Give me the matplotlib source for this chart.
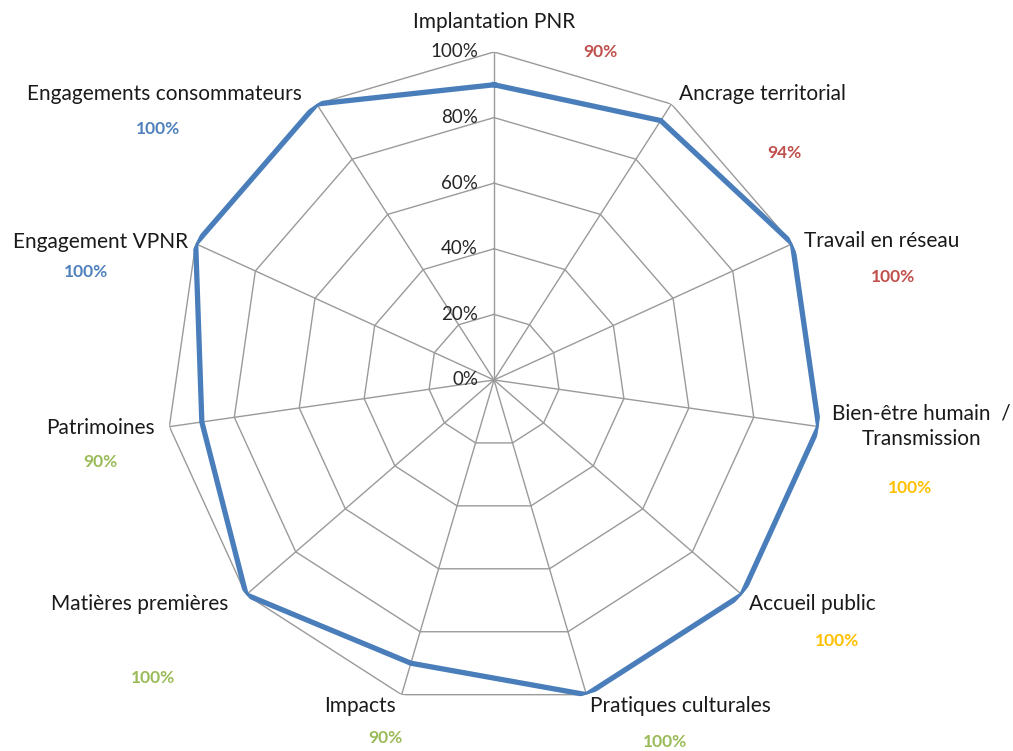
import numpy as np
import matplotlib.pyplot as plt

categories = ["Implantation PNR", "Ancrage territorial", "Travail en réseau",
              "Bien-être humain  /\nTransmission", "Accueil public",
              "Pratiques culturales", "Impacts", "Matières premières",
              "Patrimoines", "Engagement VPNR", "Engagements consommateurs"]
values = [0.90, 0.94, 1.00, 1.00, 1.00, 1.00, 0.90, 1.00, 0.90, 1.00, 1.00]
pct_labels = ["90%", "94%", "100%", "100%", "100%", "100%",
              "90%", "100%", "90%", "100%", "100%"]
pct_colors = ["#c0504d", "#c0504d", "#c0504d", "#ffc000", "#ffc000",
              "#9bbb59", "#9bbb59", "#9bbb59", "#9bbb59", "#4f81bd", "#4f81bd"]
ticks = [0, 0.2, 0.4, 0.6, 0.8, 1.0]
tick_labels = ["0%", "20%", "40%", "60%", "80%", "100%"]

# label offsets (pixels) from the 100% vertex
cat_off = [(0, 30), (91, 10), (89, 3), (103, 0), (70, -9), (94, -11),
           (-42, -11), (-106, -9), (-69, -1), (-95, 2), (-152, 10)]
pct_off = [(106, 0), (113, -49), (101, -33), (91, -61), (95, -46), (79, -47),
           (-16, -43), (-93, -83), (-69, -35), (-110, -28), (-159, -25)]

n = len(categories)
theta = np.arange(n) * 2 * np.pi / n

fig = plt.figure(figsize=(10.13, 7.51), dpi=100)
ax = fig.add_axes([0.1639, 0.0573, 0.6476, 0.8735], projection="polar")
ax.set_theta_zero_location("N")
ax.set_theta_direction(-1)
ax.set_ylim(0, 1)
ax.grid(False)
ax.set_xticks([])
ax.set_yticks([])
ax.spines["polar"].set_visible(False)

grid_c = "#9a9a9a"
th_closed = np.append(theta, theta[0])
for t in ticks[1:]:
    ax.plot(th_closed, [t] * (n + 1), color=grid_c, lw=1.0, zorder=1)
for th in theta:
    ax.plot([th, th], [0, 1], color=grid_c, lw=1.0, zorder=1)

for t, lab in zip(ticks, tick_labels):
    ax.annotate(lab, xy=(0, t), xytext=(-16, 0), textcoords="offset pixels",
                ha="right", va="center", fontsize=13.5, color="#262626",
                family="Lato")

vals = np.append(values, values[0])
ax.plot(th_closed, vals, color="#4a7ebb", lw=3.8, zorder=3, solid_joinstyle="miter")

for i in range(n):
    ax.annotate(categories[i], xy=(theta[i], 1.0), xytext=cat_off[i],
                textcoords="offset pixels", ha="center", va="center",
                fontsize=15, color="#1a1a1a", family="Lato",
                linespacing=1.35, annotation_clip=False)
    ax.annotate(pct_labels[i], xy=(theta[i], 1.0), xytext=pct_off[i],
                textcoords="offset pixels", ha="center", va="center",
                fontsize=12.5, color=pct_colors[i], fontweight="bold",
                family="Lato", annotation_clip=False)

fig.savefig("out.png", dpi=100)
